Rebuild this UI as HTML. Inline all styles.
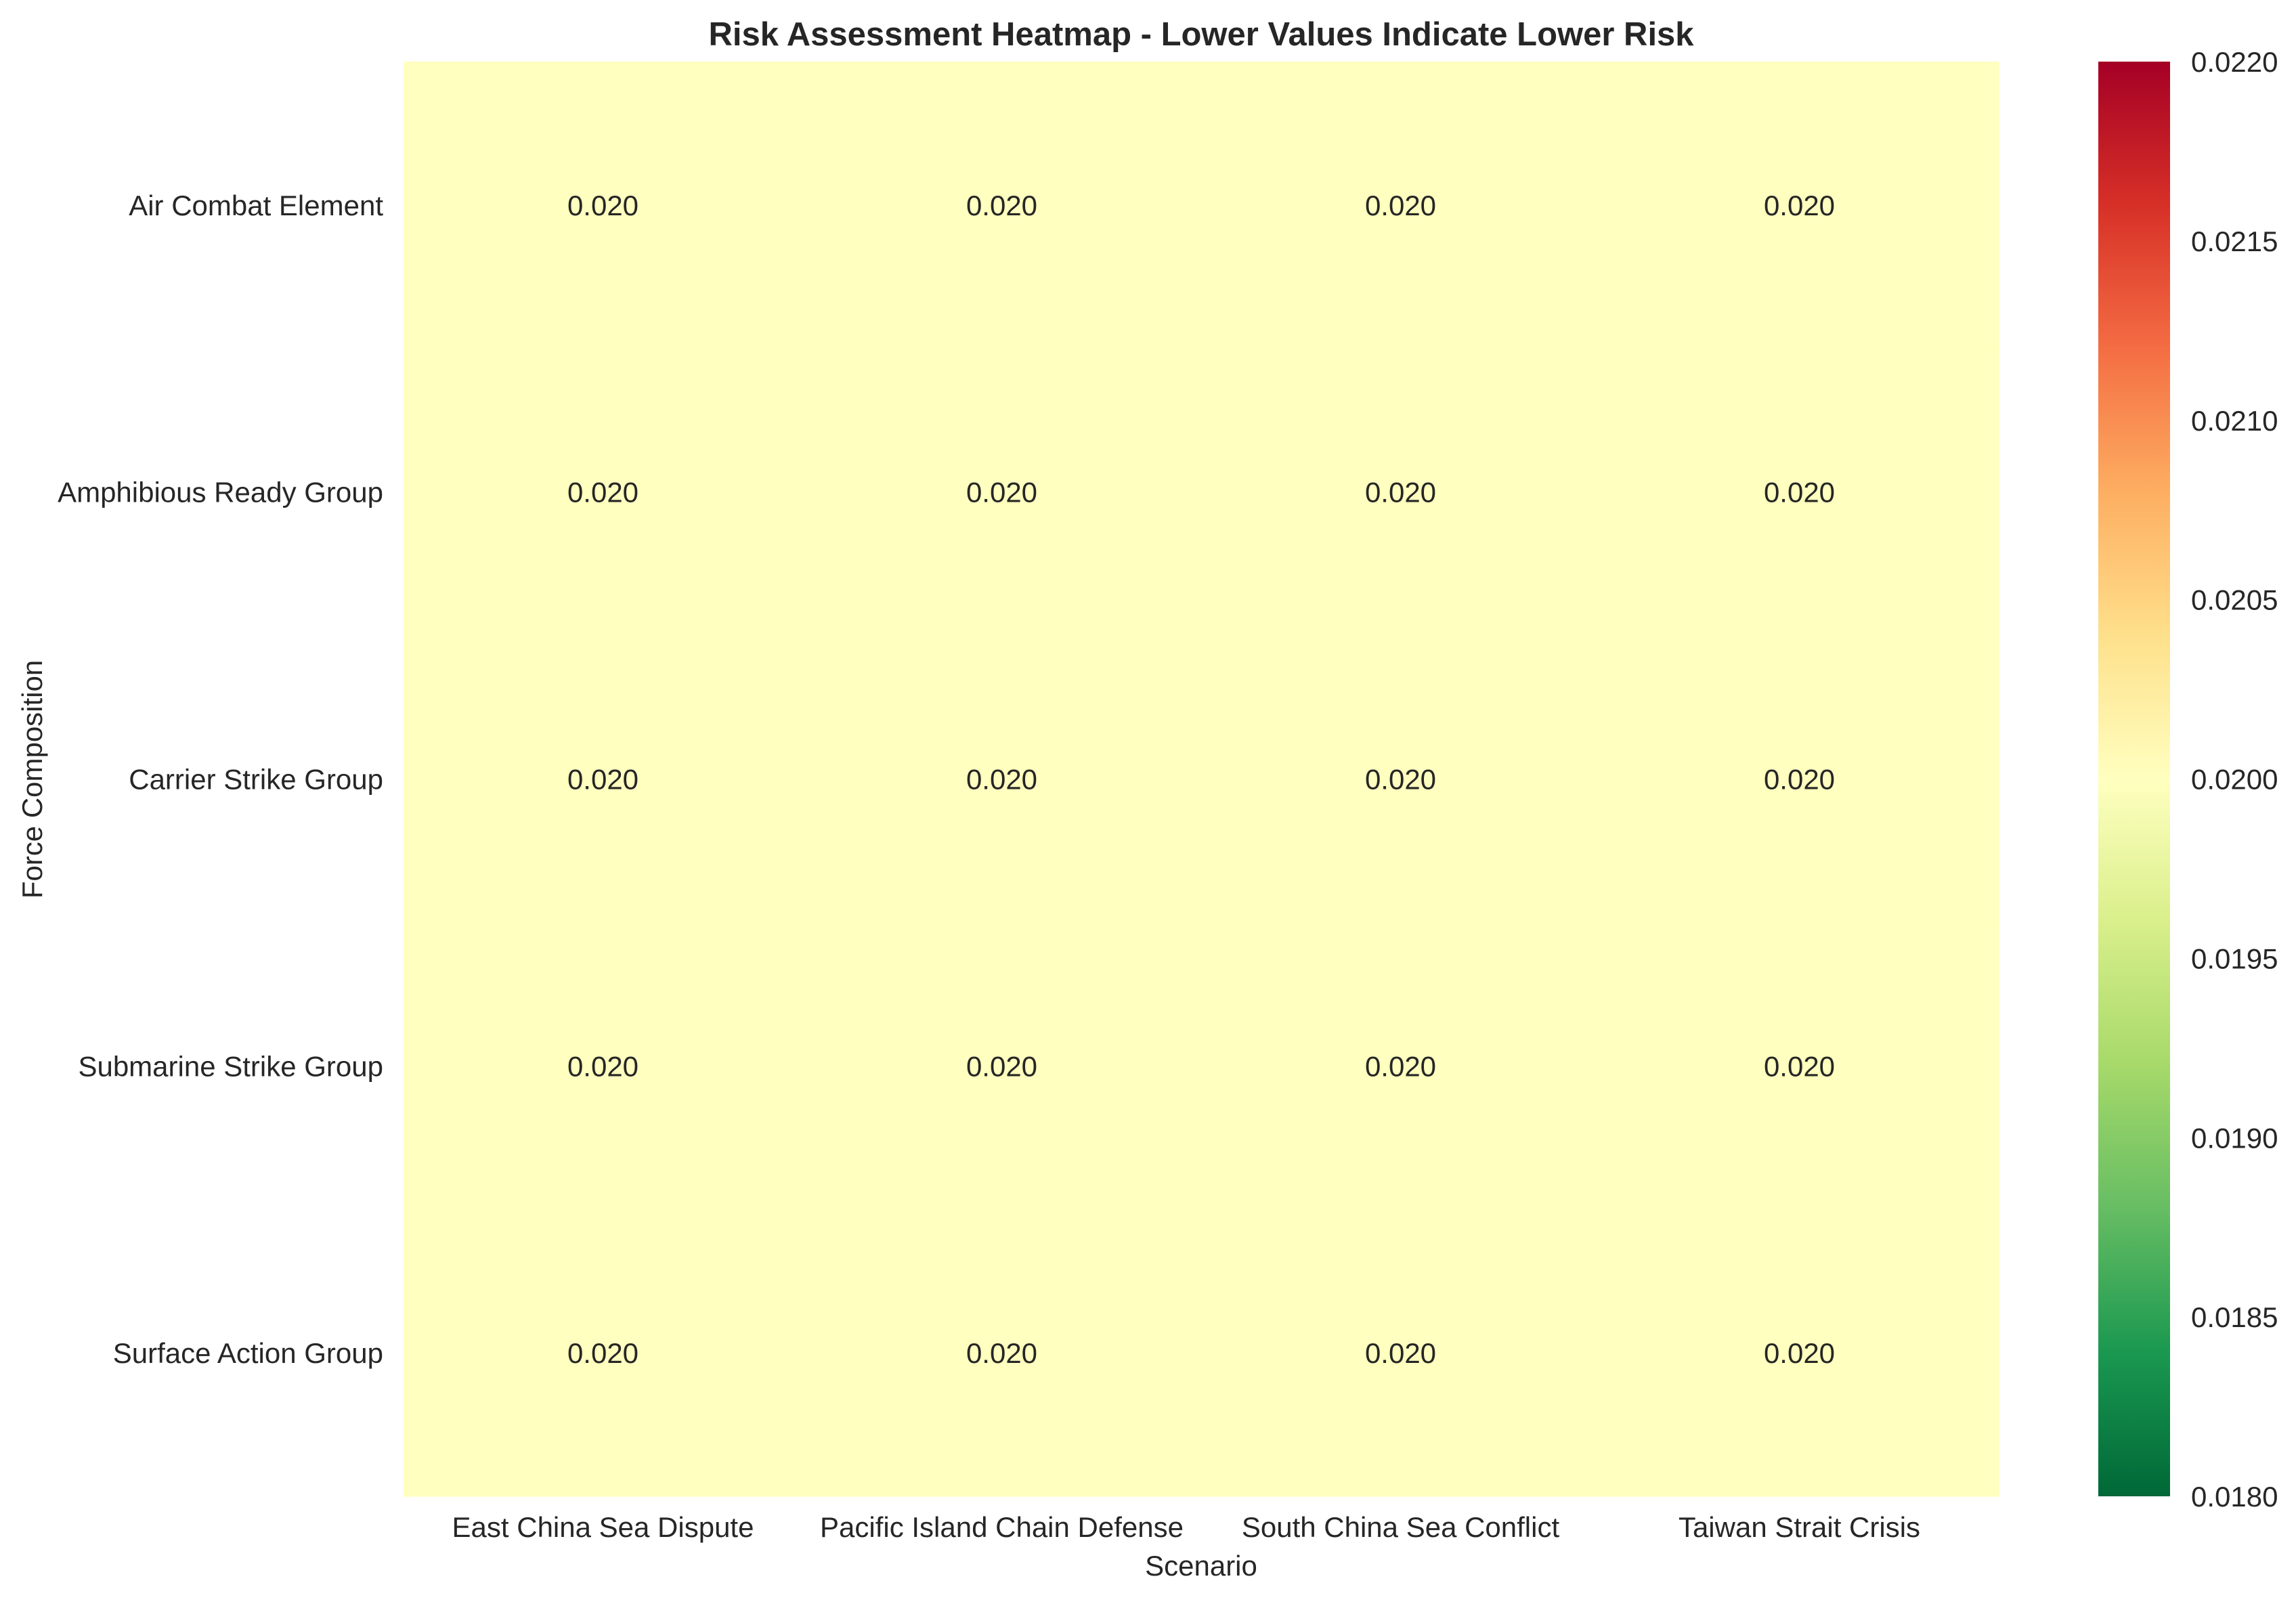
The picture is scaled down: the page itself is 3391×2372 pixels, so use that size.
<!DOCTYPE html>
<html><head><meta charset="utf-8"><style>
body{margin:0;background:#fff}
svg text{font-family:"Liberation Sans",sans-serif;fill:#262626}
</style></head><body>
<svg id="c" width="3391" height="2367" xmlns="http://www.w3.org/2000/svg">
<defs><linearGradient id="g" x1="0" y1="1" x2="0" y2="0">
<stop offset="0" stop-color="#006837"/><stop offset="0.1" stop-color="#1a9850"/><stop offset="0.2" stop-color="#66bd63"/><stop offset="0.3" stop-color="#a6d96a"/><stop offset="0.4" stop-color="#d9ef8b"/><stop offset="0.5" stop-color="#ffffbf"/><stop offset="0.6" stop-color="#fee08b"/><stop offset="0.7" stop-color="#fdae61"/><stop offset="0.8" stop-color="#f46d43"/><stop offset="0.9" stop-color="#d73027"/><stop offset="1" stop-color="#a50026"/>
</linearGradient></defs>
<text x="1774" y="67" font-size="49" font-weight="bold" text-anchor="middle">Risk Assessment Heatmap - Lower Values Indicate Lower Risk</text>
<g id="cells"></g>
<text x="1774" y="2327" font-size="42" text-anchor="middle">Scenario</text>
<text transform="translate(62,1151) rotate(-90)" font-size="42" text-anchor="middle">Force Composition</text>
<rect x="3099" y="91" width="106" height="2119" fill="url(#g)"/>
<g id="cb"></g>
</svg>
<script>
const scenarios=["East China Sea Dispute","Pacific Island Chain Defense","South China Sea Conflict","Taiwan Strait Crisis"];
const forces=["Air Combat Element","Amphibious Ready Group","Carrier Strike Group","Submarine Strike Group","Surface Action Group"];
const values=[[0.020,0.020,0.020,0.020],[0.020,0.020,0.020,0.020],[0.020,0.020,0.020,0.020],[0.020,0.020,0.020,0.020],[0.020,0.020,0.020,0.020]];
const cbTicks=[0.0180,0.0185,0.0190,0.0195,0.0200,0.0205,0.0210,0.0215,0.0220];
const vmin=0.018,vmax=0.022;
const L=596,R=2952,T=91,B=2210;
const cw=(R-L)/scenarios.length,ch=(B-T)/forces.length;
const NS="http://www.w3.org/2000/svg";
const stops=["#006837","#1a9850","#66bd63","#a6d96a","#d9ef8b","#ffffbf","#fee08b","#fdae61","#f46d43","#d73027","#a50026"];
function color(v){let t=Math.max(0,Math.min(1,(v-vmin)/(vmax-vmin)))*10;let i=Math.min(9,Math.floor(t)),f=t-i;
const a=stops[i],b=stops[i+1];const p=(h,k)=>parseInt(h.substr(1+2*k,2),16);
return "rgb("+[0,1,2].map(k=>Math.round(p(a,k)+(p(b,k)-p(a,k))*f)).join(",")+")";}
function el(n,a,txt){const e=document.createElementNS(NS,n);for(const k in a)e.setAttribute(k,a[k]);if(txt!==undefined)e.textContent=txt;return e;}
const g=document.getElementById("cells");
const xs=i=>L+cw*i, ys=j=>T+ch*j;
forces.forEach((f,j)=>{scenarios.forEach((s,i)=>{
 const r=el("rect",{x:xs(i),y:ys(j),width:cw+0.6,height:ch+0.6,fill:color(values[j][i])});
 
 
 g.appendChild(r);
 const t=el("text",{x:xs(i)+cw/2,y:ys(j)+ch/2+15,"font-size":"42","text-anchor":"middle"},values[j][i].toFixed(3));
 
 
 g.appendChild(t);
});
 const yl=el("text",{x:566,y:ys(j)+ch/2+15,"font-size":"42","text-anchor":"end"},f);
 
 
 g.appendChild(yl);
});
scenarios.forEach((s,i)=>{
 const xl=el("text",{x:xs(i)+cw/2,y:2270,"font-size":"42","text-anchor":"middle"},s);
 
 
 g.appendChild(xl);
});
const cb=document.getElementById("cb");
cbTicks.forEach(v=>{
 const y=B-(v-vmin)/(vmax-vmin)*(B-T);
 const t=el("text",{x:3236,y:y+15,"font-size":"42"},v.toFixed(4));
 
 
 cb.appendChild(t);
});
</script>
</body></html>
